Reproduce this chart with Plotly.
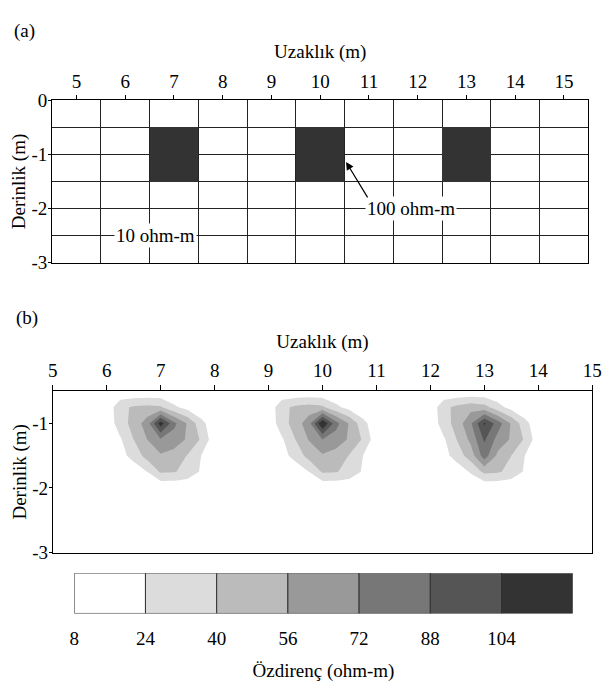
import plotly.graph_objects as go

FONT = "Liberation Serif"

# ---------------- panel (a): synthetic model ----------------
model_x = [5, 6, 7, 8, 9, 10, 11, 12, 13, 14, 15]          # cell centres (m)
model_y = [-0.25, -0.75, -1.25, -1.75, -2.25, -2.75]       # cell centres (m)
block_x = [7, 10, 13]                                      # block cell centres
block_rows_y = [-0.75, -1.25]                              # block spans -0.5..-1.5
bg_res = 10
block_res = 100
xticks_a = [5, 6, 7, 8, 9, 10, 11, 12, 13, 14, 15]
yticks_a = [0, -1, -2, -3]
ytext_a = ["0", "-1", "-2", "-3"]

# ---------------- panel (b): inversion result ----------------
grid_x = [5 + 0.25 * i for i in range(41)]
grid_y = [-0.5 - 0.25 * j for j in range(11)]
blob_centres = [7, 10, 13]
blob1 = [
    [10, 10, 10, 10, 10, 10, 10, 10, 10, 10, 10],
    [10, 12, 36, 42, 44, 42, 27, 18, 10, 10, 10],
    [10, 13, 32, 46, 64, 112, 76, 54, 30, 12, 10],
    [10, 10, 22, 40, 56, 70, 64, 54, 38, 14, 10],
    [10, 10, 18, 30, 46, 54, 50, 39, 24, 10, 10],
    [10, 10, 10, 14, 24, 42, 41, 35, 22, 10, 10],
    [10, 10, 10, 10, 10, 10, 10, 10, 10, 10, 10],
]
blob2 = [
    [10, 10, 10, 10, 10, 10, 10, 10, 10, 10, 10],
    [10, 12, 36, 43, 46, 43, 28, 18, 10, 10, 10],
    [10, 13, 33, 47, 66, 120, 78, 54, 30, 12, 10],
    [10, 10, 22, 40, 57, 72, 64, 54, 38, 14, 10],
    [10, 10, 18, 30, 46, 54, 50, 39, 24, 10, 10],
    [10, 10, 10, 14, 24, 42, 41, 35, 22, 10, 10],
    [10, 10, 10, 10, 10, 10, 10, 10, 10, 10, 10],
]
blob3 = [
    [10, 10, 10, 10, 10, 10, 10, 10, 10, 10, 10],
    [10, 12, 36, 44, 50, 46, 30, 18, 10, 10, 10],
    [10, 13, 32, 47, 70, 106, 80, 54, 30, 12, 10],
    [10, 10, 22, 41, 60, 90, 66, 54, 38, 14, 10],
    [10, 10, 18, 32, 48, 80, 52, 40, 24, 10, 10],
    [10, 10, 10, 14, 26, 44, 42, 35, 22, 10, 10],
    [10, 10, 10, 10, 10, 10, 10, 10, 10, 10, 10],
]
blobs = [blob1, blob2, blob3]
xticks_b = [5, 6, 7, 8, 9, 10, 11, 12, 13, 14, 15]
yticks_b = [-1, -2, -3]
ytext_b = ["-1", "-2", "-3"]

# ---------------- colour scale ----------------
levels = [8, 24, 40, 56, 72, 88, 104]
level_top = 120
band_colors = ["#ffffff", "#dcdcdc", "#bbbbbb", "#999999", "#777777", "#555555", "#333333"]

# build model matrix
model_z = []
for yy in model_y:
    row = []
    for xx in model_x:
        row.append(block_res if (xx in block_x and yy in block_rows_y) else bg_res)
    model_z.append(row)

# build inversion grid
Z = [[bg_res for _ in grid_x] for _ in grid_y]
for c, b in zip(blob_centres, blobs):
    i0 = grid_x.index(c - 1.25)
    for j, row in enumerate(b):
        for k, v in enumerate(row):
            Z[j][i0 + k] = v

fig = go.Figure()

fig.add_trace(go.Heatmap(
    x=model_x, y=model_y, z=model_z, zmin=bg_res, zmax=block_res,
    colorscale=[[0, "rgba(255,255,255,0)"], [1, "#333333"]],
    showscale=False, xaxis="x", yaxis="y", hoverinfo="skip"))

# stepped colour scale (contour band colours)
bounds = [0.125, 0.29, 0.458, 0.625, 0.79, 0.958]
cs = [[0, band_colors[0]]]
for i, b in enumerate(bounds):
    cs.append([b, band_colors[i]])
    cs.append([b, band_colors[i + 1]])
cs.append([1, band_colors[-1]])

step = levels[1] - levels[0]
fig.add_trace(go.Contour(
    x=grid_x, y=grid_y, z=Z,
    contours=dict(start=levels[1], end=levels[-1], size=step,
                  coloring="fill", showlines=False),
    line=dict(width=0, smoothing=0),
    colorscale=cs, showscale=False, xaxis="x2", yaxis="y2", hoverinfo="skip"))

# colour bar drawn as stacked horizontal bar
widths = [b - a for a, b in zip(levels, levels[1:] + [level_top])]
fig.add_trace(go.Bar(
    x=widths, base=levels, y=[0] * len(levels), orientation="h", width=1,
    marker=dict(color=band_colors, line=dict(color="#333333", width=1)),
    xaxis="x3", yaxis="y3", hoverinfo="skip", showlegend=False))

tf = dict(family=FONT, size=19, color="black")

minor_x = [(a + b) / 2 for a, b in zip(model_x, model_x[1:])]
minor_y = [(a + b) / 2 for a, b in zip(yticks_a, yticks_a[1:])]

fig.update_layout(
    width=613, height=693, margin=dict(l=0, r=0, t=0, b=0),
    paper_bgcolor="white", plot_bgcolor="white", showlegend=False,
    font=tf, barmode="overlay",
    xaxis=dict(domain=[0.0788, 0.9755], range=[4.5, 15.5], anchor="y", side="top",
               tickvals=xticks_a, ticks="outside", ticklen=4, tickcolor="black",
               showline=True, linecolor="black", linewidth=1, mirror=True,
               showgrid=False, zeroline=False, tickfont=tf,
               minor=dict(tickvals=minor_x, showgrid=True, gridcolor="#222222",
                          gridwidth=1, ticks=""),
               title=dict(text="Uzaklık (m)", font=tf, standoff=6)),
    yaxis=dict(domain=[0.6238, 0.8658], range=[-3, 0], anchor="x",
               tickvals=yticks_a, ticktext=ytext_a, ticks="outside", ticklen=3,
               tickcolor="black", showline=True, linecolor="black", mirror=True,
               showgrid=True, gridcolor="#222222", gridwidth=1, zeroline=False,
               tickfont=tf, ticklabelstandoff=-3,
               minor=dict(tickvals=minor_y, showgrid=True, gridcolor="#222222",
                          gridwidth=1, ticks=""),
               title=dict(text="Derinlik (m)", font=tf, standoff=0)),
    xaxis2=dict(domain=[0.0799, 0.9821], range=[5, 15], anchor="y2", side="top",
                tickvals=xticks_b, ticks="outside", ticklen=5, tickcolor="black",
                showline=True, linecolor="black", mirror=True, showgrid=False,
                zeroline=False, tickfont=tf,
                title=dict(text="Uzaklık (m)", font=tf, standoff=6)),
    yaxis2=dict(domain=[0.1926, 0.4329], range=[-3, -0.5], anchor="x2",
                tickvals=yticks_b, ticktext=ytext_b, ticks="outside", ticklen=3,
                tickcolor="black", showline=True, linecolor="black", mirror=True,
                showgrid=False, zeroline=False, tickfont=tf, ticklabelstandoff=-3,
                title=dict(text="Derinlik (m)", font=tf, standoff=0)),
    xaxis3=dict(domain=[0.1158, 0.9494], range=[levels[0], level_top], anchor="y3",
                tickvals=levels, ticks="", showline=False, showgrid=False,
                zeroline=False, tickfont=tf, ticklabelstandoff=12,
                title=dict(text="Özdirenç (ohm-m)", font=tf, standoff=15)),
    yaxis3=dict(domain=[0.102, 0.162], range=[-0.5, 0.5], anchor="x3",
                visible=False),
    annotations=[
        dict(text="(a)", x=0.012, y=0.9885, xref="paper", yref="paper",
             xanchor="left", yanchor="top", showarrow=False, font=tf),
        dict(text="(b)", x=0.015, y=0.541, xref="paper", yref="paper",
             xanchor="left", yanchor="middle", showarrow=False, font=tf),
        dict(text="10 ohm-m", x=6.62, y=-2.5, xref="x", yref="y",
             showarrow=False, bgcolor="white", borderpad=1, font=tf),
        dict(text="100 ohm-m", x=11.87, y=-2.0, xref="x", yref="y",
             showarrow=False, bgcolor="white", borderpad=1, font=tf),
        dict(text="", x=10.53, y=-1.14, ax=10.99, ay=-1.82, xref="x", yref="y",
             axref="x", ayref="y", showarrow=True, arrowhead=2, arrowsize=1.3,
             arrowwidth=1.2, arrowcolor="black"),
    ],
)

fig.write_html("out.html")
